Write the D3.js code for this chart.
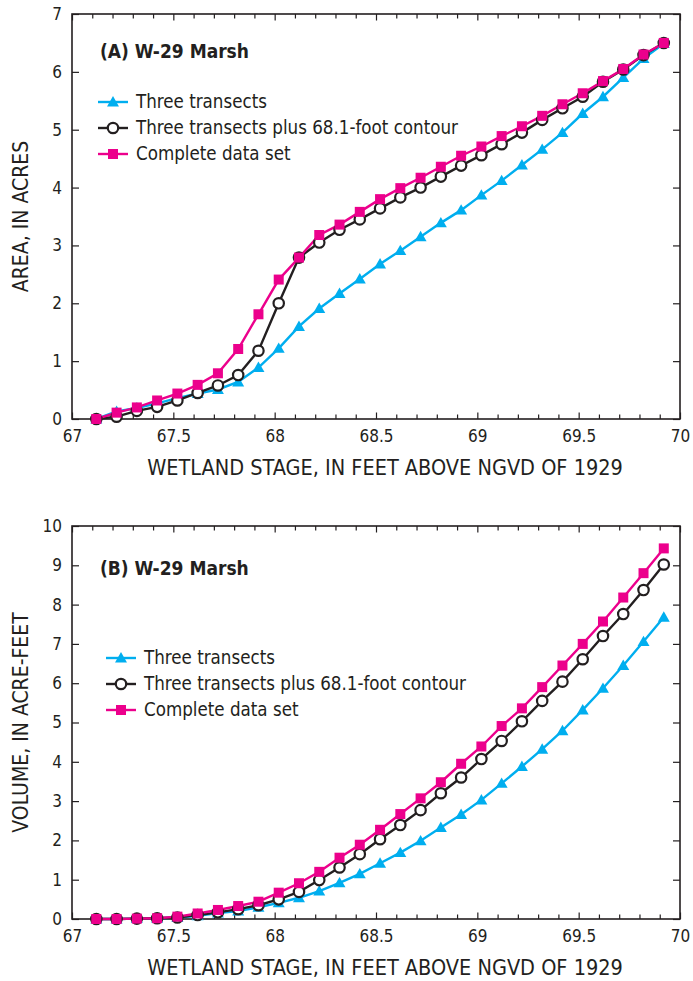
<!DOCTYPE html>
<html>
<head>
<meta charset="utf-8">
<script src="https://cdn.jsdelivr.net/npm/d3@7"></script>
<style>
  body { margin: 0; background: #fff; }
  svg { font-family: "Liberation Sans Narrow", "DejaVu Sans Condensed", sans-serif; }
</style>
</head>
<body>
<div id="chart"></div>
<script>
// stage values (feet above NGVD of 1929)
const stage = d3.range(29).map(i => +(67.12 + i * 0.1).toFixed(2));

// (A) area, acres
const areaThree = [0, 0.13, 0.19, 0.27, 0.36, 0.44, 0.51, 0.64, 0.89, 1.22, 1.6, 1.91, 2.17, 2.42, 2.68,
  2.91, 3.15, 3.39, 3.61, 3.87, 4.12, 4.39, 4.66, 4.95, 5.28, 5.57, 5.9, 6.23, 6.49];
const areaContour = [0, 0.04, 0.14, 0.21, 0.32, 0.45, 0.58, 0.76, 1.18, 2.0, 2.79, 3.05, 3.27, 3.45, 3.64,
  3.83, 4.0, 4.19, 4.38, 4.56, 4.75, 4.95, 5.17, 5.37, 5.57, 5.83, 6.04, 6.29, 6.5];
const areaComplete = [0, 0.11, 0.2, 0.32, 0.44, 0.59, 0.79, 1.21, 1.81, 2.41, 2.79, 3.18, 3.36, 3.58, 3.8,
  3.99, 4.17, 4.36, 4.55, 4.71, 4.89, 5.06, 5.24, 5.44, 5.63, 5.84, 6.05, 6.3, 6.5];

// (B) volume, acre-feet
const volThree = [0, 0, 0.01, 0.02, 0.04, 0.08, 0.15, 0.2, 0.3, 0.41, 0.54, 0.71, 0.92, 1.15, 1.42,
  1.69, 1.99, 2.33, 2.66, 3.03, 3.45, 3.88, 4.32, 4.79, 5.32, 5.87, 6.45, 7.06, 7.68];
const volContour = [0, 0, 0.01, 0.02, 0.04, 0.1, 0.17, 0.25, 0.35, 0.5, 0.69, 0.99, 1.31, 1.65, 2.03,
  2.39, 2.77, 3.2, 3.6, 4.07, 4.53, 5.03, 5.55, 6.04, 6.61, 7.2, 7.76, 8.37, 9.02];
const volComplete = [0, 0, 0.01, 0.02, 0.06, 0.14, 0.23, 0.33, 0.44, 0.67, 0.91, 1.2, 1.56, 1.89, 2.27,
  2.67, 3.07, 3.48, 3.95, 4.39, 4.91, 5.36, 5.9, 6.45, 7.0, 7.57, 8.18, 8.8, 9.43];

const seriesNames = ["Three transects", "Three transects plus 68.1-foot contour", "Complete data set"];
const xTickLabels = [67, 67.5, 68, 68.5, 69, 69.5, 70];

const W = 693, H = 981;
const BLUE = "#00aeef", PINK = "#ec008c", INK = "#231f20";

const svg = d3.select("#chart").append("svg")
  .attr("width", W).attr("height", H);

function drawMarker(g, type, x, y) {
  if (type === "tri") {
    g.append("path")
      .attr("d", d3.symbol(d3.symbolTriangle, 62)())
      .attr("transform", `translate(${x},${y + 1})`)
      .attr("fill", BLUE);
  } else if (type === "circ") {
    g.append("circle").attr("cx", x).attr("cy", y).attr("r", 5.2)
      .attr("fill", "#fff").attr("stroke", INK).attr("stroke-width", 2.2);
  } else {
    g.append("rect").attr("x", x - 5).attr("y", y - 5).attr("width", 10).attr("height", 10)
      .attr("fill", PINK);
  }
}

function drawPanel(cfg) {
  const x = d3.scaleLinear().domain([67, 70]).range([72, 680]);
  const y = d3.scaleLinear().domain([0, cfg.yMax]).range([cfg.bottom, cfg.top]);
  const g = svg.append("g");

  // minor x ticks (every 0.1 ft)
  const minor = d3.range(30).map(i => 67 + i * 0.1).filter(v => Math.abs(v * 2 - Math.round(v * 2)) > 0.01);
  g.append("g").attr("transform", `translate(0,${cfg.bottom})`)
    .call(d3.axisBottom(x).tickValues(minor).tickSize(-4.5).tickFormat(""));
  g.append("g").attr("transform", `translate(0,${cfg.top})`)
    .call(d3.axisTop(x).tickValues(minor).tickSize(-4.5).tickFormat(""));

  // major x ticks with labels
  g.append("g").attr("class", "xaxis").attr("transform", `translate(0,${cfg.bottom})`)
    .call(d3.axisBottom(x).tickValues(xTickLabels).tickSize(-6.5).tickPadding(11).tickFormat(d => d));
  g.append("g").attr("transform", `translate(0,${cfg.top})`)
    .call(d3.axisTop(x).tickValues(xTickLabels).tickSize(-6.5).tickFormat(""));

  // y ticks
  g.append("g").attr("class", "yaxis").attr("transform", "translate(72,0)")
    .call(d3.axisLeft(y).tickValues(d3.range(cfg.yMax + 1)).tickSize(-7).tickPadding(10).tickFormat(d => d));
  g.append("g").attr("transform", "translate(680,0)")
    .call(d3.axisRight(y).tickValues(d3.range(cfg.yMax + 1)).tickSize(-7).tickFormat(""));

  g.selectAll(".domain").remove();
  g.selectAll(".tick line").attr("stroke", INK).attr("stroke-width", 1.2);
  g.selectAll(".tick text")
    .attr("font-family", "'Liberation Sans Narrow', 'DejaVu Sans Condensed', sans-serif")
    .attr("font-size", 17).attr("fill", INK);

  // frame
  g.append("rect").attr("x", 72).attr("y", cfg.top)
    .attr("width", 608).attr("height", cfg.bottom - cfg.top)
    .attr("fill", "none").attr("stroke", INK).attr("stroke-width", 1.6);

  // axis titles
  g.append("text").attr("x", 385).attr("y", cfg.bottom + 56)
    .attr("text-anchor", "middle").attr("font-size", 21.5).attr("fill", INK)
    .text("WETLAND STAGE, IN FEET ABOVE NGVD OF 1929");
  g.append("text")
    .attr("transform", `translate(28,${(cfg.top + cfg.bottom) / 2}) rotate(-90)`)
    .attr("text-anchor", "middle").attr("font-size", 21).attr("fill", INK)
    .text(cfg.yTitle);

  // panel label
  g.append("text").attr("x", 100).attr("y", cfg.labelY)
    .attr("font-size", 19).attr("font-weight", "bold").attr("fill", INK)
    .text(cfg.label);

  // series lines and markers
  const line = d3.line().x((d, i) => x(stage[i])).y(d => y(d));
  const series = [
    { vals: cfg.data[0], color: BLUE, mk: "tri" },
    { vals: cfg.data[1], color: INK, mk: "circ" },
    { vals: cfg.data[2], color: PINK, mk: "sq" }
  ];
  series.forEach(s => {
    g.append("path").datum(s.vals).attr("d", line)
      .attr("fill", "none").attr("stroke", s.color).attr("stroke-width", 2.4);
  });
  series.forEach(s => {
    const mg = g.append("g");
    s.vals.forEach((v, i) => drawMarker(mg, s.mk, x(stage[i]), y(v)));
  });

  // legend
  const lg = g.append("g");
  series.forEach((s, i) => {
    const ly = cfg.legY + i * 26;
    lg.append("line").attr("x1", cfg.legX).attr("x2", cfg.legX + 30)
      .attr("y1", ly).attr("y2", ly).attr("stroke", s.color).attr("stroke-width", 2.4);
    drawMarker(lg, s.mk, cfg.legX + 15, ly);
    lg.append("text").attr("x", cfg.legX + 38).attr("y", ly + 6)
      .attr("font-size", 18.6).attr("fill", INK).text(seriesNames[i]);
  });
}

drawPanel({
  top: 14, bottom: 419, yMax: 7, yTitle: "AREA, IN ACRES",
  label: "(A) W-29 Marsh", labelY: 58, legX: 98, legY: 102,
  data: [areaThree, areaContour, areaComplete]
});
drawPanel({
  top: 526, bottom: 919, yMax: 10, yTitle: "VOLUME, IN ACRE-FEET",
  label: "(B) W-29 Marsh", labelY: 575, legX: 106, legY: 658,
  data: [volThree, volContour, volComplete]
});
</script>
</body>
</html>
